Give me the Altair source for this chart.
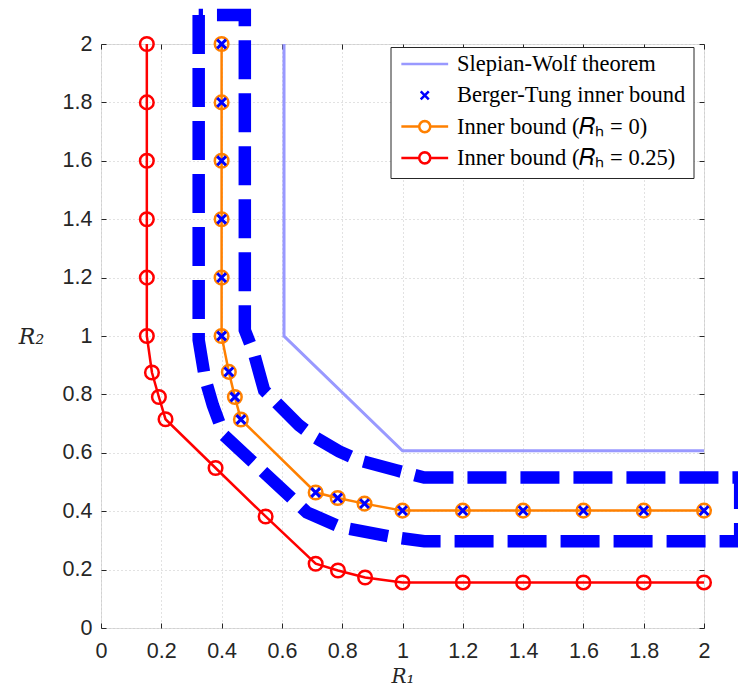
import altair as alt
import pandas as pd

# ---------------- data ----------------
tick_values = [0, 0.2, 0.4, 0.6, 0.8, 1, 1.2, 1.4, 1.6, 1.8, 2]

series_names = [
    "Slepian-Wolf theorem",
    "Berger-Tung inner bound",
    "Inner bound (𝑅ₕ = 0)",
    "Inner bound (𝑅ₕ = 0.25)",
]
series_colors = ["#9999ff", "#0000ff", "#ff8000", "#ff0000"]

sw_x = [0.607, 0.607, 1.0, 2.0]
sw_y = [2.0, 1.0, 0.607, 0.607]

inner0_x = [0.4, 0.4, 0.4, 0.4, 0.4, 0.4, 0.424, 0.444, 0.464, 0.712, 0.785, 0.874,
            1.0, 1.2, 1.4, 1.6, 1.8, 2.0]
inner0_y = [2.0, 1.8, 1.6, 1.4, 1.2, 1.0, 0.877, 0.791, 0.714, 0.464, 0.445, 0.426,
            0.402, 0.402, 0.402, 0.402, 0.402, 0.402]

bt_x = [0.4, 0.4, 0.4, 0.4, 0.4, 0.4, 0.424, 0.444, 0.464, 0.712, 0.785, 0.874,
        1.0, 1.2, 1.4, 1.6, 1.8, 2.0]
bt_y = [2.0, 1.8, 1.6, 1.4, 1.2, 1.0, 0.877, 0.791, 0.714, 0.464, 0.445, 0.426,
        0.402, 0.402, 0.402, 0.402, 0.402, 0.402]

inner25_x = [0.152, 0.152, 0.152, 0.152, 0.152, 0.152, 0.169, 0.192, 0.214, 0.380,
             0.546, 0.712, 0.786, 0.876, 1.0, 1.2, 1.4, 1.6, 1.8, 2.0]
inner25_y = [2.0, 1.8, 1.6, 1.4, 1.2, 1.0, 0.875, 0.791, 0.715, 0.548,
             0.382, 0.220, 0.197, 0.173, 0.156, 0.156, 0.156, 0.156, 0.156, 0.156]

# dashed blue outline drawn around the R_H = 0 curve (closed path)
region_x = [0.324, 0.324, 0.345, 0.371, 0.408, 0.683, 0.796, 0.972, 1.072, 2.12,
            2.12, 1.072, 0.979, 0.856, 0.790, 0.710, 0.657, 0.541, 0.507, 0.477, 0.477, 0.324]
region_y = [2.099, 0.986, 0.855, 0.763, 0.660, 0.396, 0.345, 0.311, 0.297, 0.297,
            0.515, 0.515, 0.540, 0.574, 0.605, 0.653, 0.694, 0.814, 0.941, 1.020, 2.099, 2.099]

# ---------------- layout ----------------
W, H = 603, 584
AX = "#262626"

X_PATH = "M-1,-1L1,1M-1,1L1,-1"
LEG_LINE = "M-3.6,0L3.6,0"
LEG_X = "M-0.62,-0.62L0.62,0.62M-0.62,0.62L0.62,-0.62"
LEG_CIRC = ("M-3.6,0L-0.85,0M0.85,0L3.6,0"
            "M-0.85,0L-0.785,0.325L-0.601,0.601L-0.325,0.785L0,0.85L0.325,0.785"
            "L0.601,0.601L0.785,0.325L0.85,0L0.785,-0.325L0.601,-0.601L0.325,-0.785"
            "L0,-0.85L-0.325,-0.785L-0.601,-0.601L-0.785,-0.325Z")
legend_shapes = [LEG_LINE, LEG_X, LEG_CIRC, LEG_CIRC]


def frame(xs, ys):
    return pd.DataFrame({"x": xs, "y": ys, "i": list(range(len(xs)))})


sw_df = frame(sw_x, sw_y)
in0_df = frame(inner0_x, inner0_y)
bt_df = frame(bt_x, bt_y)
in25_df = frame(inner25_x, inner25_y)
reg_df = frame(region_x, region_y)
leg_df = pd.DataFrame({"series": series_names})

xs = alt.Scale(domain=[0, 2], nice=False, zero=False)
ys = alt.Scale(domain=[0, 2], nice=False, zero=False)

main_x_axis = alt.Axis(
    orient="bottom", values=tick_values, format="~g", title="R₁",
    grid=True, gridDash=[1, 3], gridColor="#c4c4c4", gridWidth=1,
    ticks=False, domain=False, labelFlush=False,
    labelFont="Liberation Sans", labelFontSize=21.5, labelColor=AX, labelPadding=12,
    titleFont="DejaVu Serif", titleFontStyle="italic", titleFontSize=20,
    titleFontWeight="normal", titleColor=AX, titleY=54, titleBaseline="alphabetic",
)
main_y_axis = alt.Axis(
    orient="left", values=tick_values, format="~g", title="R₂",
    grid=True, gridDash=[1, 3], gridColor="#c4c4c4", gridWidth=1,
    ticks=False, domain=False, labelFlush=False,
    labelFont="Liberation Sans", labelFontSize=21.5, labelColor=AX, labelPadding=9,
    titleFont="DejaVu Serif", titleFontStyle="italic", titleFontSize=22,
    titleFontWeight="normal", titleColor=AX, titleAngle=0, titleX=-70, titleY=H / 2,
    titleAlign="center", titleBaseline="middle",
)


def tick_axis(orient, offset):
    return alt.Axis(orient=orient, offset=offset, values=tick_values, labels=False,
                    domain=False, grid=False, ticks=True, tickSize=5, tickColor=AX,
                    tickWidth=1, title=None)


def enc(x_axis=None, y_axis=None):
    return dict(
        x=alt.X("x:Q", scale=xs, axis=x_axis),
        y=alt.Y("y:Q", scale=ys, axis=y_axis),
        order=alt.Order("i:Q"),
    )


sw_layer = alt.Chart(sw_df).mark_line(color=series_colors[0], strokeWidth=3).encode(
    **enc(main_x_axis, main_y_axis))

in0_line = alt.Chart(in0_df).mark_line(color=series_colors[2], strokeWidth=2.5).encode(
    **enc(tick_axis("top", -H), tick_axis("right", -W)))
in0_pts = alt.Chart(in0_df).mark_point(
    shape="circle", filled=False, color=series_colors[2], strokeWidth=2.5, size=185,
    opacity=1).encode(**enc(tick_axis("bottom", -H), tick_axis("left", -W)))

bt_pts = alt.Chart(bt_df).mark_point(
    shape=X_PATH, filled=False, color=series_colors[1], strokeWidth=3, size=77,
    opacity=1).encode(**enc())

in25_line = alt.Chart(in25_df).mark_line(color=series_colors[3], strokeWidth=2.5).encode(**enc())
in25_pts = alt.Chart(in25_df).mark_point(
    shape="circle", filled=False, color=series_colors[3], strokeWidth=2.5, size=185,
    opacity=1).encode(**enc())

region = alt.Chart(reg_df).mark_line(
    color="#0000ff", strokeWidth=12.5, strokeDash=[39, 14], strokeCap="butt",
    strokeJoin="miter", clip=False).encode(**enc())

leg = alt.Legend(
    title=None, orient="none", legendX=289.5, legendY=3, padding=8,
    fillColor="white", strokeColor=AX,
    labelFont="Liberation Serif", labelFontSize=22.5, labelColor="black", labelLimit=400,
    symbolSize=169, symbolStrokeWidth=2.5, symbolOffset=15, labelOffset=21,
    rowPadding=8.3, clipHeight=18,
)
legend_layer = alt.Chart(leg_df).transform_filter("false").mark_point(
    filled=False, strokeWidth=2.5, opacity=1).encode(
    color=alt.Color("series:N", scale=alt.Scale(domain=series_names, range=series_colors),
                    legend=leg),
    shape=alt.Shape("series:N", scale=alt.Scale(domain=series_names, range=legend_shapes),
                    legend=leg),
)

chart = alt.layer(
    sw_layer, in0_line, in0_pts, bt_pts, in25_line, in25_pts, region, legend_layer
).resolve_axis(x="independent", y="independent").properties(
    width=W, height=H,
    autosize=alt.AutoSizeParams(type="none"),
    padding={"left": 93, "top": 36, "right": 34, "bottom": 60},
).configure_view(stroke=AX, strokeWidth=1).configure(background="white")

chart.save("out.html", embed_options={"renderer": "svg", "actions": False})
